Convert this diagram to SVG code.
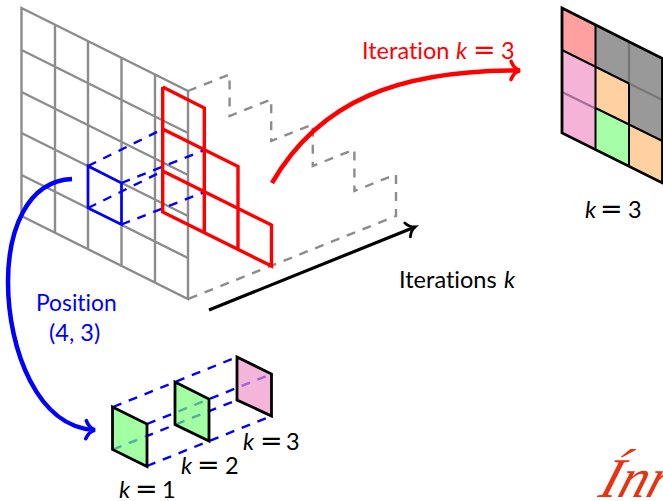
<svg xmlns="http://www.w3.org/2000/svg" width="663" height="501" viewBox="0 0 663 501">
<style>
text{font-family:Lato,"Open Sans","Liberation Sans",sans-serif;font-size:23.5px;font-variant-ligatures:none}
.m{font-style:italic}
.e{font-family:"DejaVu Sans",sans-serif;font-size:27px}
.grid{fill:none;stroke:#8c8c8c;stroke-width:2.4}
.gd{fill:none;stroke:#8c8c8c;stroke-width:2.4;stroke-dasharray:9 8}
.bd{fill:none;stroke:#0000ff;stroke-width:2.400;stroke-dasharray:9 8}
.red{fill:none;stroke:#ff0000;stroke-width:3.400;stroke-linejoin:miter}
.blue{fill:none;stroke:#0000ff;stroke-width:2.600}
.cell{stroke:#000;stroke-width:2.8;stroke-linejoin:miter}
.in{fill:none;stroke:#000;stroke-width:2}
</style>
<defs>
<marker id="hr" markerUnits="userSpaceOnUse" markerWidth="16" markerHeight="26" refX="13" refY="13" orient="auto" overflow="visible"><path d="M4,4 C6,9 9,12 13,13 C9,14 6,17 4,22" fill="none" stroke="#f00" stroke-width="3.600" stroke-linecap="round"/></marker>
<marker id="hb" markerUnits="userSpaceOnUse" markerWidth="16" markerHeight="26" refX="13" refY="13" orient="auto" overflow="visible"><path d="M4,4 C6,9 9,12 13,13 C9,14 6,17 4,22" fill="none" stroke="#00f" stroke-width="3.600" stroke-linecap="round"/></marker>
<marker id="hk" markerUnits="userSpaceOnUse" markerWidth="16" markerHeight="22" refX="12" refY="11" orient="auto" overflow="visible"><path d="M4,3.500 C6,7.500 9,10 12,11 C9,12 6,14.500 4,18.500" fill="none" stroke="#000" stroke-width="2.800" stroke-linecap="round"/></marker>
</defs>

<g id="back-grid">
<path class="grid" d="M21.500,8L188,91V299L21.500,216ZM55,24.700V232.700M88,41.400V249.400M121.500,58V266M155,74.600V282.600M21.500,50L188,133M21.500,92L188,175M21.500,133L188,216M21.500,175L188,258"/>
</g>

<g id="iteration-steps">
<path class="gd" d="M188,91L229.600,74.400V116L271.200,99.400V141L312.800,124.400V166L354.400,149.400V191L396,174.400V216L188,299"/>
</g>

<g id="position-cell">
<path class="blue" d="M88,166L121.500,183V224.500L88,208Z"/>
<path class="bd" d="M88,166L163,129M121.500,183L204.500,150M88,208L163,171M121.500,224.500L204.500,192"/>
</g>

<g id="red-region">
<path class="red" d="M162.700,87L204.300,108V233M162.700,87V212L271.500,266V225L162.700,171M162.700,129L238,166.500V249.500"/>
</g>

<g id="connectors">
<path d="M272,183C320,100 400,70 520,70.500" fill="none" stroke="#f00" stroke-width="4.500" marker-end="url(#hr)"/>
<path d="M72,179C26,181 8,232 8,282C8,350 38,428 95,430" fill="none" stroke="#00f" stroke-width="4.500" marker-end="url(#hb)"/>
<path d="M209,310L415,227" fill="none" stroke="#000" stroke-width="3.200" marker-end="url(#hk)"/>
</g>

<g id="slice-k3">
<path fill="#ffa0a0" d="M562,8L595.500,25V67L562,50Z"/>
<path fill="#f5b4d7" d="M562,50L595.500,67V150L562,133Z"/>
<path fill="#999" d="M595.500,25L662.500,58.500V141L629,124.500V83.500L595.500,67Z"/>
<path fill="#ffd0a0" d="M595.500,67L629,83.500V124.500L595.500,108Z"/>
<path fill="#a6ffa6" d="M595.500,108L629,124.500V166L595.500,150Z"/>
<path fill="#ffd0a0" d="M629,124.500L662.500,141V183L629,166Z"/>
<path fill="none" stroke="#a56e96" stroke-width="2.400" d="M562,92L595.500,108.500"/>
<path fill="none" stroke="#777" stroke-width="2.400" d="M629,42V83.500M629,83.500L662.500,100"/>
<path class="in" d="M562,50L629,83.500M595.500,25V150M595.500,108L662.500,141M629,83.500V166"/>
<path class="cell" fill="none" d="M562,8L662.500,58.500V183L562,133Z"/>
</g>

<g id="depth-dashes">
<path class="bd" d="M113,407L237,357M147,424L271.500,374M113,449.500L237,400M147,466L271.500,416"/>
</g>
<g id="cell-k1"><path class="cell" fill="#76ff76" fill-opacity=".68" d="M112.500,407L147,424V466.500L112.500,449.500Z"/></g>
<g id="cell-k2"><path class="cell" fill="#76ff76" fill-opacity=".68" d="M175,382L209,399V441L175,424.500Z"/></g>
<g id="cell-k3"><path class="cell" fill="#f092c8" fill-opacity=".68" d="M237,357L271.500,374V416L237,400Z"/></g>

<g id="labels">
<text y="59" fill="#f00"><tspan x="362">Iteration</tspan><tspan class="m" x="456">k</tspan><tspan class="e" x="473">=</tspan><tspan x="501">3</tspan></text>
<text x="399" y="288" fill="#000">Iterations <tspan class="m" x="504">k</tspan></text>
<text x="36" y="311" fill="#00f" style="font-size:22.800px">Position</text>
<text x="49" y="341" fill="#00f">(4, 3)</text>
<text fill="#000" y="218"><tspan class="m" x="585">k</tspan><tspan class="e" x="600">=</tspan><tspan x="628">3</tspan></text>
<text fill="#000" y="498"><tspan class="m" x="119">k</tspan><tspan class="e" x="135">=</tspan><tspan x="162">1</tspan></text>
<text fill="#000" y="474"><tspan class="m" x="181">k</tspan><tspan class="e" x="197">=</tspan><tspan x="225">2</tspan></text>
<text fill="#000" y="450"><tspan class="m" x="243">k</tspan><tspan class="e" x="260">=</tspan><tspan x="286">3</tspan></text>
</g>

<g id="logo">
<text transform="translate(597 497) skewX(-18)" x="0" y="0" fill="#e63312" style="font-family:'Liberation Serif',serif;font-style:italic;font-size:56px">Ínr</text>
</g>
</svg>
